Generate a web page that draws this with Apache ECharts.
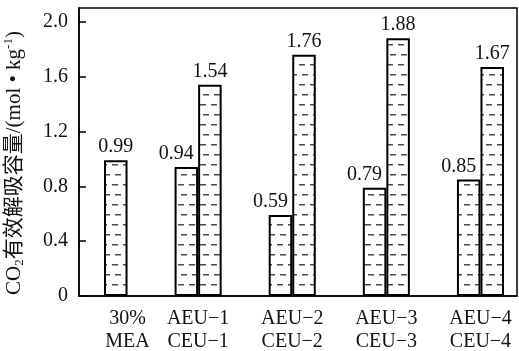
<!DOCTYPE html>
<html>
<head>
<meta charset="utf-8">
<script src="https://cdn.jsdelivr.net/npm/echarts@6/dist/echarts.min.js"></script>
<style>
  html, body { margin: 0; padding: 0; background: #fff; }
  #chart { width: 519px; height: 351px; }
</style>
</head>
<body>
<div id="chart"></div>
<script>
// Sample groups and their CO2 effective desorption capacities (mol/kg)
const groupLabels = ['30%\nMEA', 'AEU\u22121\nCEU\u22121', 'AEU\u22122\nCEU\u22122', 'AEU\u22123\nCEU\u22123', 'AEU\u22124\nCEU\u22124'];
const aeuValues = [0.99, 0.94, 0.59, 0.79, 0.85];
const ceuValues = [null, 1.54, 1.76, 1.88, 1.67];
const yMin = 0, yMax = 2.1, yStep = 0.4;

const FONT = "'Liberation Serif', 'Times New Roman', 'Noto Sans CJK SC', serif";

// Dashed fill used inside every bar
function makeDashPattern() {
  const c = document.createElement('canvas');
  c.width = 22; c.height = 20;
  const ctx = c.getContext('2d');
  ctx.fillStyle = '#fff';
  ctx.fillRect(0, 0, 22, 20);
  ctx.fillStyle = '#4a4a4a';
  ctx.fillRect(2, 4, 6, 1.5);
  ctx.fillRect(13, 4, 6, 1.5);
  ctx.fillRect(5, 14, 6, 1.5);
  ctx.fillRect(16, 14, 6, 1.5);
  return c;
}
const dashFill = { image: makeDashPattern(), repeat: 'repeat' };

// Each group gets two bar slots; groups are separated by two empty slots
// (the first group only has a single gap slot after it).
const slotCount = 17;
const barData = new Array(slotCount).fill('-');
const labelSlots = new Array(slotCount + 1).fill('');
groupLabels.forEach((name, g) => {
  const start = g === 0 ? 0 : 4 * g - 1;
  const paired = ceuValues[g] != null;
  barData[start] = {
    value: aeuValues[g],
    label: paired ? { offset: [-10, 0] } : {}
  };
  if (paired) barData[start + 1] = { value: ceuValues[g] };
  labelSlots[start + 1] = name;
});

const chart = echarts.init(document.getElementById('chart'), null, { renderer: 'canvas' });
chart.setOption({
  animation: false,
  backgroundColor: '#fff',
  grid: [
    { left: 79, right: 2, top: 8, bottom: 55, outerBoundsMode: 'none', containLabel: false,
      show: true, borderColor: '#000', borderWidth: 1.5, backgroundColor: 'transparent' },
    { left: 104, right: 15, top: 8, bottom: 55, outerBoundsMode: 'none', containLabel: false }
  ],
  xAxis: [
    {
      gridIndex: 0, type: 'category', data: [''],
      axisLine: { show: true, lineStyle: { color: '#000', width: 1.5 } },
      axisTick: { show: false }, axisLabel: { show: false }
    },
    {
      gridIndex: 1, type: 'category', data: barData.map((_, i) => 's' + i),
      boundaryGap: true, show: false
    },
    {
      gridIndex: 1, type: 'category', data: labelSlots, boundaryGap: false,
      position: 'bottom',
      axisLine: { show: false }, axisTick: { show: false },
      axisLabel: {
        interval: 0, margin: 11, color: '#111',
        fontFamily: FONT, fontSize: 20, lineHeight: 23
      }
    }
  ],
  yAxis: [
    {
      gridIndex: 0, type: 'value', min: yMin, max: yMax, interval: yStep,
      splitLine: { show: false },
      axisLine: { show: true, lineStyle: { color: '#000', width: 1.5 } },
      axisTick: { show: true, inside: true, length: 7, lineStyle: { color: '#000', width: 1.5 } },
      axisLabel: {
        showMaxLabel: false, margin: 11, color: '#111',
        fontFamily: FONT, fontSize: 20,
        formatter: v => (v === 0 ? '0' : v.toFixed(1))
      },
      name: 'CO{sub|2}{cjk|有效解吸容量}/(mol • kg{sup|-1})',
      nameLocation: 'middle', nameRotate: 90, nameGap: 53,
      nameTextStyle: {
        color: '#111', fontFamily: FONT, fontSize: 21, padding: [0, 22, 0, 0],
        rich: {
          cjk: { fontFamily: FONT, fontSize: 21, color: '#111' },
          sub: { fontFamily: FONT, fontSize: 13, color: '#111', padding: [11, 0, 0, 0] },
          sup: { fontFamily: FONT, fontSize: 13, color: '#111', padding: [0, 0, 10, 0] }
        }
      }
    },
    {
      gridIndex: 1, type: 'value', min: yMin, max: yMax, interval: yStep, show: false
    }
  ],
  series: [
    {
      type: 'bar', xAxisIndex: 1, yAxisIndex: 1,
      data: barData, barCategoryGap: '0%',
      itemStyle: { color: dashFill, borderColor: '#000', borderWidth: 2 },
      label: {
        show: true, position: 'top', distance: 3, color: '#111',
        fontFamily: FONT, fontSize: 20,
        formatter: p => p.value.toFixed(2)
      }
    }
  ]
});
</script>
</body>
</html>
